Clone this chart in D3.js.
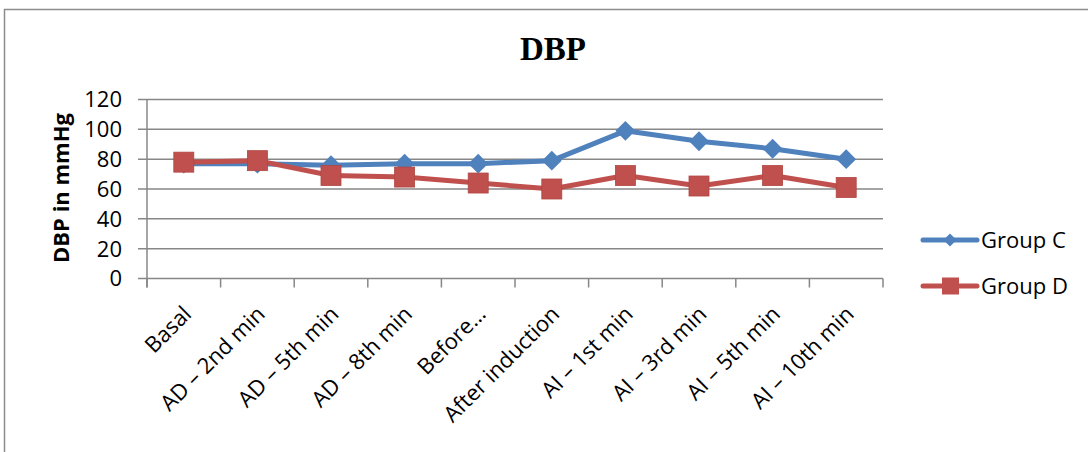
<!DOCTYPE html>
<html><head><meta charset="utf-8">
<script src="https://cdn.jsdelivr.net/npm/d3@7"></script>
<style>body{margin:0;background:#fff;} svg{display:block;}</style>
</head><body>
<svg id="c" width="1088" height="452"></svg>
<script>
const categories = ["Basal","AD – 2nd min","AD – 5th min","AD – 8th min","Before…","After induction","AI – 1st min","AI – 3rd min","AI – 5th min","AI – 10th min"];
const groupC = [77,77,76,77,77,79,99,92,87,80];
const groupD = [78,79,69,68,64,60,69,62,69,61];
const yTicks = [0,20,40,60,80,100,120];
const seriesNames = ["Group C","Group D"];
const colors = ["#4F81BD","#C0504D"];

const svg = d3.select("#c");
const font = "'Open Sans', sans-serif";
svg.append("rect").attr("x",4.5).attr("y",9.5).attr("width",1200).attr("height",500)
  .attr("fill","none").attr("stroke","#8c8c8c").attr("stroke-width",1.5);

const L=147, R=883, T=99.5, B=278.5;
const x = d3.scaleBand().domain(categories).range([L,R]);
const y = d3.scaleLinear().domain([0,120]).range([B,T]);

svg.append("text").attr("x",553).attr("y",60).attr("text-anchor","middle")
  .attr("font-family","'Liberation Serif', serif").attr("font-weight","bold").attr("font-size",33).text("DBP");

svg.append("g").selectAll("line").data(yTicks).join("line")
  .attr("x1",L-9).attr("x2",R).attr("y1",d=>y(d)).attr("y2",d=>y(d))
  .attr("stroke","#878787").attr("stroke-width",1.5);
svg.append("line").attr("x1",L).attr("x2",L).attr("y1",T).attr("y2",B+9).attr("stroke","#878787").attr("stroke-width",1.5);
const bounds = categories.map(c=>x(c)).concat([R]);
svg.append("g").selectAll("line").data(bounds).join("line")
  .attr("x1",d=>d).attr("x2",d=>d).attr("y1",B).attr("y2",B+9)
  .attr("stroke","#878787").attr("stroke-width",1.5);

svg.append("g").selectAll("text").data(yTicks).join("text")
  .attr("x",L-25).attr("y",d=>y(d)).attr("dy","0.36em").attr("text-anchor","end")
  .attr("font-family",font).attr("font-size",22).text(d=>d);

svg.append("text").attr("transform","translate(69,188) rotate(-90)").attr("text-anchor","middle")
  .attr("font-family",font).attr("font-weight","bold").attr("font-size",22).text("DBP in mmHg");

svg.append("g").selectAll("text").data(categories).join("text")
  .attr("transform",d=>`translate(${x(d)+x.bandwidth()/2+9},${B+37}) rotate(-45)`)
  .attr("text-anchor","end").attr("font-family",font).attr("font-size",22).text(d=>d);

const line = d3.line().x((d,i)=>x(categories[i])+x.bandwidth()/2).y(d=>y(d));
const diamond = d3.symbol().type(d3.symbolDiamond2).size(250);
const diamondSmall = d3.symbol().type(d3.symbolDiamond2).size(110);
function drawSeries(vals, idx){
  svg.append("path").datum(vals).attr("d",line).attr("fill","none")
    .attr("stroke",colors[idx]).attr("stroke-width",5).attr("stroke-linejoin","round");
  const g = svg.append("g");
  vals.forEach((v,i)=>{
    const cx = x(categories[i])+x.bandwidth()/2, cy=y(v);
    if(idx===0){
      g.append("path").attr("d",diamond()).attr("transform",`translate(${cx},${cy})`)
       .attr("fill",colors[0]);
    } else {
      g.append("rect").attr("x",cx-10).attr("y",cy-10).attr("width",20).attr("height",20)
       .attr("fill",colors[1]).attr("stroke","#b04643").attr("stroke-width",0.8);
    }
  });
}
drawSeries(groupC,0);
drawSeries(groupD,1);

const ly=[240,286];
seriesNames.forEach((n,i)=>{
  svg.append("line").attr("x1",923).attr("x2",977).attr("y1",ly[i]).attr("y2",ly[i])
    .attr("stroke",colors[i]).attr("stroke-width",5).attr("stroke-linecap","round");
  if(i===0){
    svg.append("path").attr("d",diamondSmall()).attr("transform",`translate(950,${ly[i]})`).attr("fill",colors[0]);
  } else {
    svg.append("rect").attr("x",942).attr("y",ly[i]-8.5).attr("width",17).attr("height",17).attr("fill",colors[1]);
  }
  svg.append("text").attr("x",981).attr("y",ly[i]).attr("dy","0.36em")
    .attr("font-family",font).attr("font-size",22).text(n);
});
</script>
</body></html>
